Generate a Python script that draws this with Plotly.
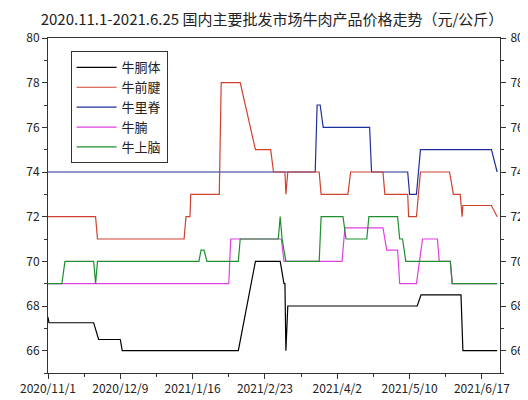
import plotly.graph_objects as go

# days since 2020-11-01
black_x = [0, 0.5, 24, 25, 26.6, 38, 39, 100, 109, 122, 124, 124.5, 125, 126, 194, 196, 217, 218, 236]
black_y = [67.5, 67.25, 67.25, 67, 66.5, 66.5, 66, 66, 70, 70, 69, 69, 66, 68, 68, 68.5, 68.5, 66, 66]
red_x = [0, 25, 26, 71.5, 72.5, 74.6, 75, 90, 91, 101, 109, 117, 118.5, 124.5, 125, 126, 142.5, 143.5, 157.6, 159, 176, 177, 189, 189.5, 193.6, 195.7, 211, 213, 216.6, 217.6, 218, 233, 236]
red_y = [72, 72, 71, 71, 72, 72, 73, 73, 78, 78, 75, 75, 74, 74, 73, 74, 74, 73, 73, 74, 74, 73, 73, 72, 72, 74, 74, 73, 73, 72, 72.5, 72.5, 72]
blue_x = [0, 140.4, 141.4, 143, 144.6, 169, 170, 189, 190, 193.6, 195.7, 233, 236]
blue_y = [74, 74, 77, 77, 76, 76, 74, 74, 73, 73, 75, 75, 74]
pink_x = [0, 95, 96, 122.6, 124, 154.5, 156, 176, 178, 183.7, 184.8, 193.6, 196.8, 204.6, 205.6, 211.4, 212.4, 236]
pink_y = [69, 69, 71, 71, 70, 70, 71.5, 71.5, 70.5, 70.5, 69, 69, 71, 71, 70, 70, 69, 69]
green_x = [0, 7.3, 8.9, 24, 25, 26, 79.3, 80.4, 82, 83.5, 100, 101, 121, 122, 123, 125, 142.5, 143.5, 155, 156.6, 167.5, 168.6, 183.7, 184.8, 186.3, 188, 211.4, 212.4, 236]
green_y = [69, 69, 70, 70, 69, 70, 70, 70.5, 70.5, 70, 70, 71, 71, 72, 71, 70, 70, 72, 72, 71, 71, 72, 72, 71, 71, 70, 70, 69, 69]

names = ["牛胴体", "牛前腱", "牛里脊", "牛腩", "牛上脑"]
colors = ["#000000", "#d0402f", "#1f2f9a", "#e040e0", "#1f8f2f"]
tick_days = [0, 38, 76, 114, 152, 190, 228]
tick_text = ["2020/11/1", "2020/12/9", "2021/1/16", "2021/2/23", "2021/4/2", "2021/5/10", "2021/6/17"]

fig = go.Figure()
series = [(black_x, black_y), (red_x, red_y), (blue_x, blue_y), (pink_x, pink_y), (green_x, green_y)]
order = [2, 1, 3, 4, 0]
for i in order:
    xs, ys = series[i]
    fig.add_trace(go.Scatter(x=xs, y=ys, mode="lines", name=names[i],
                             line=dict(color=colors[i], width=1.2), legendrank=i))
fig.add_trace(go.Scatter(x=[0], y=[70], yaxis="y2", showlegend=False, hoverinfo="skip",
                         mode="markers", marker=dict(opacity=0)))

font = dict(family="Noto Sans CJK SC, Arial", size=12, color="#222")
axis_common = dict(showline=True, linecolor="#333", linewidth=1, ticks="outside",
                   ticklen=5, tickcolor="#333", showgrid=False, zeroline=False)
fig.update_layout(
    width=528, height=400, margin=dict(l=38, r=36, t=30, b=29),
    plot_bgcolor="white", paper_bgcolor="white", font=font,
    title=dict(text="2020.11.1-2021.6.25 国内主要批发市场牛肉产品价格走势（元/公斤）",
               x=0.5, xanchor="center", y=0.985, yanchor="top", font=dict(size=15, color="#222")),
    xaxis=dict(range=[0, 237.5], tickvals=tick_days, ticktext=tick_text, mirror=True,
               minor=dict(tickvals=[19, 57, 95, 133, 171, 209], ticks="outside", ticklen=3, tickcolor="#333"),
               **axis_common),
    yaxis=dict(range=[65, 80], tickvals=[66, 68, 70, 72, 74, 76, 78, 80],
               minor=dict(dtick=1, ticks="outside", ticklen=3, tickcolor="#333"), **axis_common),
    yaxis2=dict(range=[65, 80], overlaying="y", side="right", tickvals=[66, 68, 70, 72, 74, 76, 78, 80],
                ticklabelstandoff=2,
                minor=dict(dtick=1, ticks="outside", ticklen=3, tickcolor="#333"), **axis_common),
    legend=dict(x=0.05, y=0.96, xanchor="left", yanchor="top", bordercolor="#333", borderwidth=1,
                bgcolor="white", font=dict(size=13), tracegroupgap=0, itemwidth=40),
    showlegend=True,
)
fig.write_html("out.html")
